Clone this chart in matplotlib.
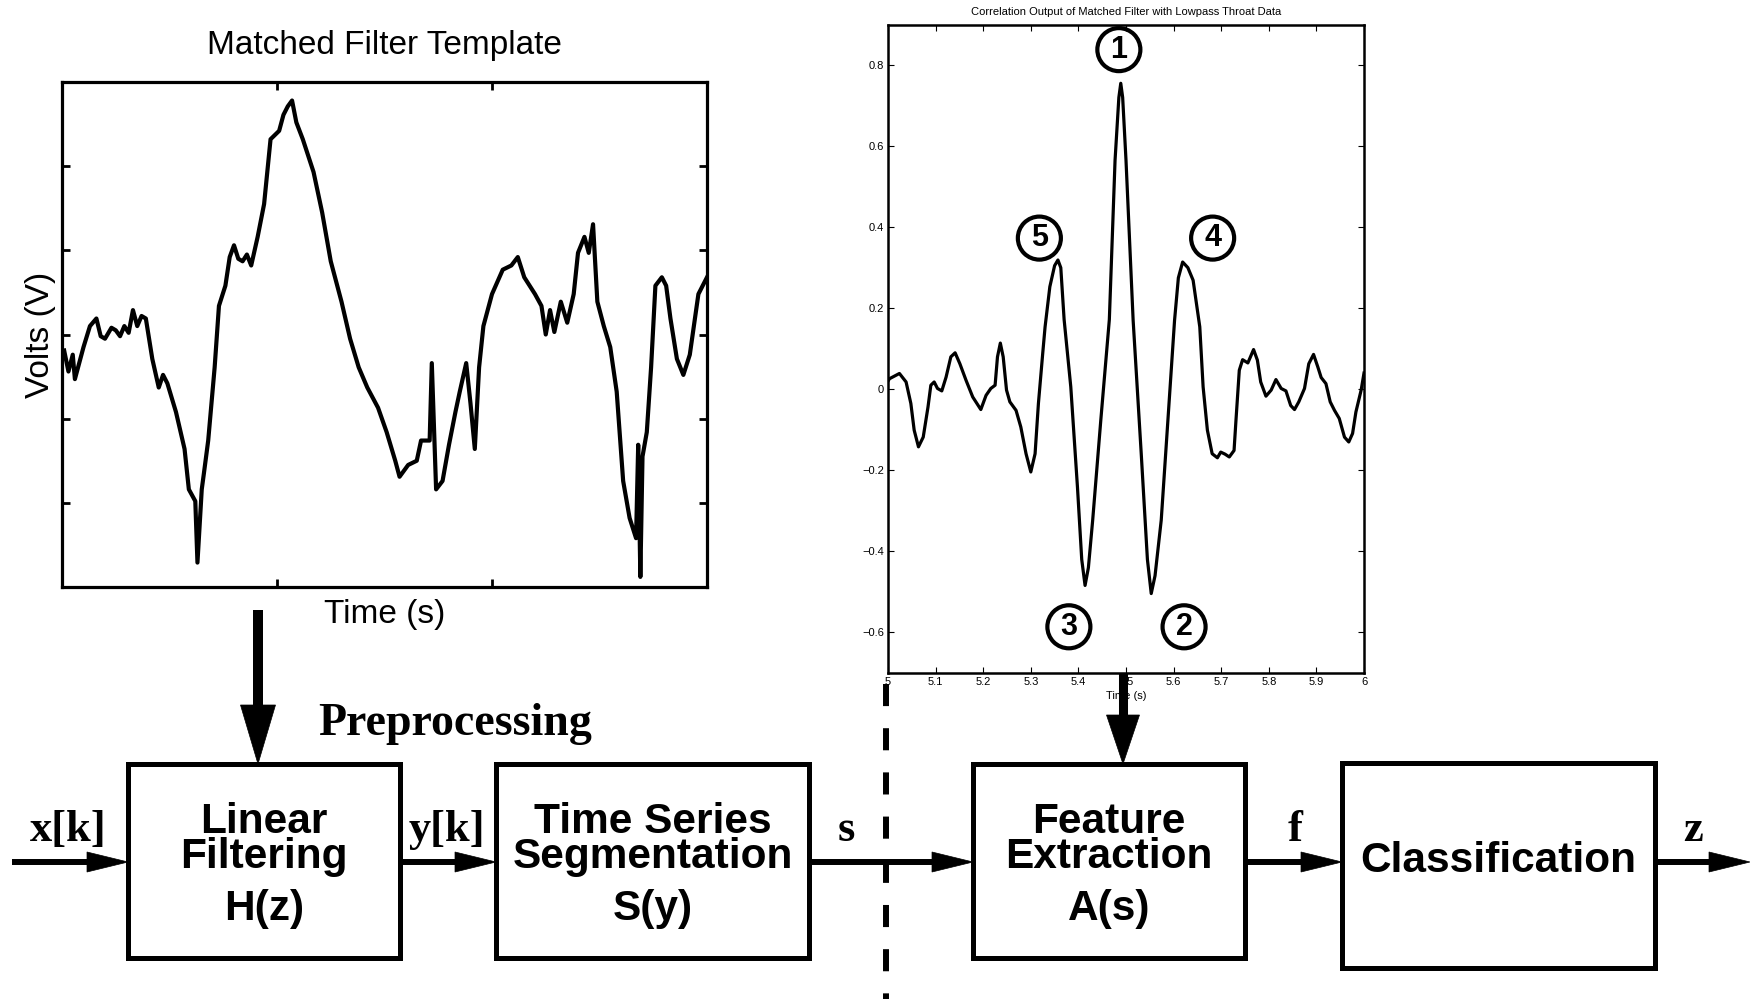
import matplotlib
matplotlib.use("Agg")
import matplotlib.pyplot as plt
from matplotlib.patches import Rectangle, Polygon

plt.rcParams['font.family'] = ['Liberation Sans', 'DejaVu Sans']

# Matched filter template (window split in thirds along x, sixths along y)
template_t = [0.01, 0.03, 0.05, 0.06, 0.10, 0.13, 0.16, 0.18, 0.20, 0.23, 0.25, 0.27,
              0.29, 0.31, 0.33, 0.35, 0.37, 0.39, 0.42, 0.45, 0.47, 0.49, 0.53, 0.57,
              0.59, 0.62, 0.63, 0.65, 0.66, 0.68, 0.71, 0.73, 0.76, 0.78, 0.80, 0.82,
              0.84, 0.86, 0.88, 0.91, 0.94, 0.97, 1.01, 1.03, 1.05, 1.07, 1.09, 1.12,
              1.17, 1.21, 1.25, 1.30, 1.34, 1.38, 1.42, 1.47, 1.51, 1.55, 1.57, 1.61,
              1.65, 1.67, 1.71, 1.72, 1.74, 1.77, 1.80, 1.83, 1.85, 1.88, 1.90, 1.92,
              1.94, 1.96, 2.00, 2.05, 2.09, 2.12, 2.15, 2.20, 2.23, 2.25, 2.27, 2.29,
              2.32, 2.35, 2.38, 2.40, 2.43, 2.45, 2.47, 2.49, 2.52, 2.55, 2.58, 2.61,
              2.64, 2.67, 2.68, 2.69, 2.70, 2.72, 2.74, 2.76, 2.79, 2.81, 2.83, 2.86,
              2.89, 2.92, 2.96, 3.00]
template_v = [2.81, 2.56, 2.76, 2.47, 2.85, 3.10, 3.19, 2.98, 2.95, 3.08, 3.05, 2.98,
              3.10, 3.02, 3.29, 3.10, 3.22, 3.19, 2.71, 2.37, 2.52, 2.42, 2.08, 1.64,
              1.16, 1.02, 0.29, 1.16, 1.35, 1.74, 2.61, 3.34, 3.58, 3.92, 4.06, 3.90,
              3.87, 3.95, 3.82, 4.16, 4.55, 5.32, 5.42, 5.61, 5.71, 5.78, 5.52, 5.32,
              4.93, 4.45, 3.87, 3.39, 2.95, 2.61, 2.37, 2.13, 1.84, 1.50, 1.31, 1.45,
              1.50, 1.74, 1.74, 2.66, 1.16, 1.26, 1.69, 2.08, 2.32, 2.66, 2.18, 1.64,
              2.61, 3.10, 3.48, 3.77, 3.82, 3.92, 3.68, 3.48, 3.34, 3.00, 3.29, 3.03,
              3.39, 3.14, 3.48, 3.97, 4.16, 3.97, 4.31, 3.39, 3.10, 2.85, 2.32, 1.26,
              0.82, 0.58, 1.69, 0.12, 1.55, 1.84, 2.61, 3.58, 3.68, 3.58, 3.19, 2.71,
              2.52, 2.76, 3.48, 3.68]

# Correlation output
corr_t = [5.000, 5.003, 5.024, 5.038, 5.048, 5.055, 5.064, 5.074, 5.084, 5.090,
          5.097, 5.104, 5.113, 5.122, 5.132, 5.141, 5.151, 5.164, 5.178, 5.195,
          5.206, 5.216, 5.225, 5.230, 5.236, 5.242, 5.249, 5.256, 5.269, 5.279,
          5.290, 5.300, 5.309, 5.316, 5.325, 5.330, 5.340, 5.350, 5.357, 5.363,
          5.370, 5.384, 5.398, 5.407, 5.414, 5.421, 5.430, 5.447, 5.465, 5.477,
          5.485, 5.489, 5.493, 5.500, 5.515, 5.532, 5.545, 5.553, 5.561, 5.574,
          5.588, 5.602, 5.610, 5.619, 5.630, 5.641, 5.655, 5.662, 5.671, 5.681,
          5.692, 5.699, 5.708, 5.717, 5.727, 5.731, 5.738, 5.745, 5.756, 5.768,
          5.776, 5.783, 5.794, 5.805, 5.815, 5.826, 5.836, 5.846, 5.854, 5.863,
          5.875, 5.884, 5.894, 5.903, 5.910, 5.920, 5.929, 5.938, 5.948, 5.959,
          5.968, 5.976, 5.983, 5.994, 6.000]
corr_v = [0.020, 0.026, 0.039, 0.018, -0.035, -0.101, -0.142, -0.118, -0.044, 0.010,
          0.018, 0.002, -0.004, 0.030, 0.080, 0.090, 0.063, 0.022, -0.019, -0.050,
          -0.015, 0.002, 0.010, 0.080, 0.114, 0.080, -0.002, -0.031, -0.052, -0.093,
          -0.159, -0.204, -0.159, -0.035, 0.088, 0.154, 0.253, 0.305, 0.319, 0.300,
          0.172, 0.006, -0.241, -0.420, -0.484, -0.440, -0.323, -0.077, 0.172, 0.565,
          0.720, 0.755, 0.720, 0.565, 0.170, -0.159, -0.420, -0.504, -0.460, -0.323,
          -0.077, 0.170, 0.275, 0.314, 0.300, 0.269, 0.154, 0.006, -0.101, -0.159,
          -0.169, -0.155, -0.160, -0.167, -0.151, -0.077, 0.047, 0.073, 0.065, 0.098,
          0.072, 0.018, -0.017, -0.002, 0.024, 0.002, -0.004, -0.040, -0.050, -0.031,
          0.002, 0.063, 0.086, 0.055, 0.029, 0.014, -0.031, -0.052, -0.072, -0.118,
          -0.130, -0.109, -0.056, -0.002, 0.040]

peak_labels = ['1', '5', '4', '3', '2']
peak_t = [5.485, 5.318, 5.682, 5.380, 5.622]
peak_v = [0.838, 0.373, 0.373, -0.586, -0.586]

corr_xticks = [5.0, 5.1, 5.2, 5.3, 5.4, 5.5, 5.6, 5.7, 5.8, 5.9, 6.0]
corr_xticklabels = ['5', '5.1', '5.2', '5.3', '5.4', '5.5', '5.6', '5.7', '5.8', '5.9', '6']
corr_yticks = [-0.6, -0.4, -0.2, 0.0, 0.2, 0.4, 0.6, 0.8]
corr_yticklabels = ['\u22120.6', '\u22120.4', '\u22120.2', '0', '0.2', '0.4', '0.6', '0.8']

blocks = [['Linear\nFiltering', 'H(z)'],
          ['Time Series\nSegmentation', 'S(y)'],
          ['Feature\nExtraction', 'A(s)'],
          ['Classification']]
signals = ['x[k]', 'y[k]', 's', 'f', 'z']

W, H = 1750, 999
fig = plt.figure(figsize=(17.5, 9.99), dpi=100)


def place(x0, y0, x1, y1):
    return [x0 / W, 1 - y1 / H, (x1 - x0) / W, (y1 - y0) / H]


# left plot: template
ax1 = fig.add_axes(place(62, 82, 707, 587))
ax1.plot(template_t, template_v, color='black', lw=3)
ax1.set_xlim(0, 3)
ax1.set_ylim(0, 6)
ax1.set_xticks([1, 2])
ax1.set_yticks([1, 2, 3, 4, 5])
ax1.tick_params(direction='in', top=True, right=True, labelbottom=False,
                labelleft=False, length=6, width=2)
for sp in ax1.spines.values():
    sp.set_linewidth(2.3)
ax1.set_title('Matched Filter Template', fontsize=24, pad=20)
ax1.set_xlabel('Time (s)', fontsize=24, labelpad=9)
ax1.set_ylabel('Volts (V)', fontsize=24, labelpad=4)

# right plot: correlation output
ax2 = fig.add_axes(place(888, 24.5, 1364, 673))
ax2.plot(corr_t, corr_v, color='black', lw=2.3)
ax2.set_xlim(5, 6)
ax2.set_ylim(-0.7, 0.9)
ax2.set_xticks(corr_xticks)
ax2.set_xticklabels(corr_xticklabels)
ax2.set_yticks(corr_yticks)
ax2.set_yticklabels(corr_yticklabels)
ax2.tick_params(direction='in', top=True, right=True, length=4, width=0.8,
                labelsize=8, pad=3)
for sp in ax2.spines.values():
    sp.set_linewidth(1.8)
ax2.set_title('Correlation Output of Matched Filter with Lowpass Throat Data',
              fontsize=8, pad=7)
ax2.set_xlabel('Time (s)', fontsize=8, labelpad=3)
ax2.scatter(peak_t, peak_v, s=960, facecolors='none', edgecolors='black',
            linewidths=3, zorder=5)
for lab, t, v in zip(peak_labels, peak_t, peak_v):
    ax2.text(t, v, lab, ha='center', va='center', fontsize=22,
             fontweight='bold', zorder=6)

# overlay for the block diagram, in pixel units
ax0 = fig.add_axes([0, 0, 1, 1])
ax0.set_xlim(0, W)
ax0.set_ylim(H, 0)
ax0.axis('off')

box_x0 = [128, 496, 973, 1342]
box_x1 = [400, 809, 1245, 1655]
box_y0 = [764, 764, 764, 763]
box_y1 = [958, 958, 958, 968]

for i, lines in enumerate(blocks):
    ax0.add_patch(Rectangle((box_x0[i], box_y0[i]), box_x1[i] - box_x0[i],
                            box_y1[i] - box_y0[i], fill=False, lw=3.6,
                            edgecolor='black'))
    cx = (box_x0[i] + box_x1[i]) / 2
    if len(lines) == 1:
        ax0.text(cx, 872, lines[0], ha='center', va='baseline', fontsize=30.5,
                 fontweight='bold')
    else:
        ax0.text(cx, 868, lines[0], ha='center', va='baseline', fontsize=30.5,
                 fontweight='bold', linespacing=0.84, multialignment='center')
        ax0.text(cx, 920, lines[1], ha='center', va='baseline', fontsize=30.5,
                 fontweight='bold')

main_y = 862
seg_start = [12, 400, 809, 1245, 1655]
seg_end = [128, 496, 973, 1342, 1750]
sig_x = [68, 447, 846, 1295, 1693]
for x0, x1, lab, lx in zip(seg_start, seg_end, signals, sig_x):
    ax0.plot([x0, x1 - 30], [main_y, main_y], color='black', lw=4.3,
             solid_capstyle='butt')
    ax0.add_patch(Polygon([[x1 - 41, main_y - 10], [x1, main_y],
                           [x1 - 41, main_y + 10]], closed=True,
                          facecolor='black', edgecolor='black', lw=0.5))
    ax0.text(lx, 841, lab, ha='center', va='baseline', fontsize=32,
             fontweight='bold', family=['Liberation Serif', 'DejaVu Serif'])

ax0.text(318, 735, 'Preprocessing', ha='left', va='baseline', fontsize=33,
         fontweight='bold', family=['Liberation Serif', 'DejaVu Serif'])

# vertical arrows from the plots into the blocks
for ax_x, top, head_top, half, shaft in [(258, 610, 705, 17.5, 7.2),
                                         (1123, 673, 715, 16.5, 6.5)]:
    ax0.plot([ax_x, ax_x], [top, head_top + 5], color='black', lw=shaft,
             solid_capstyle='butt')
    ax0.add_patch(Polygon([[ax_x - half, head_top], [ax_x + half, head_top],
                           [ax_x, 764]], closed=True, facecolor='black',
                          edgecolor='black', lw=0.5))

# dashed separator
ax0.plot([886, 886], [684, 999], color='black', lw=4.3,
         linestyle=(0, (3.7, 3.7)))

fig.savefig('out.png', dpi=100)
